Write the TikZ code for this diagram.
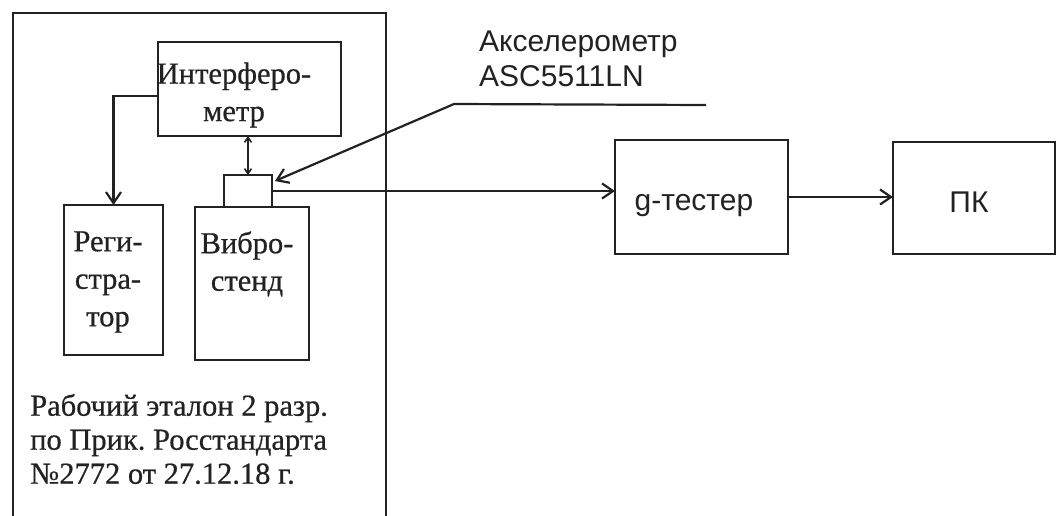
\documentclass[tikz,border=0pt]{standalone}
\usepackage{fontspec}
\setmainfont[FakeBold=0.6]{Liberation Serif}
\newfontfamily\arialf{Liberation Sans}
\usetikzlibrary{arrows.meta}
\definecolor{ink}{HTML}{222222}
\frenchspacing
\begin{document}
\begin{tikzpicture}[x=1pt,y=-1pt,
  box/.style={draw=ink, line width=2.2pt, inner sep=0pt, outer sep=0pt},
  lbl/.style={inner sep=0pt, text=ink, font=\fontsize{30.5}{37.5}\selectfont, align=center},
  sans/.style={inner sep=0pt, text=ink, font=\arialf\fontsize{30}{35}\selectfont},
  conn/.style={draw=ink, line width=2.2pt},
  arr/.style={conn, -{Straight Barb[length=11pt,width=15pt]}},
  dbl/.style={conn, line width=1.6pt, {Straight Barb[length=5pt,width=7pt]}-{Straight Barb[length=5pt,width=7pt]}}]
\useasboundingbox (0,0) rectangle (1058,515);
\clip (0,0) rectangle (1058,515);
% boxes
\node[box, anchor=north west, minimum width=373pt, minimum height=540pt] (outer) at (13,13) {};
\node[box, anchor=north west, minimum width=183pt, minimum height=94pt] (int) at (158,42) {};
\node[box, anchor=north west, minimum width=99pt, minimum height=150pt] (reg) at (64,205) {};
\node[box, anchor=north west, minimum width=114pt, minimum height=153pt] (vib) at (195,207) {};
\node[box, anchor=north west, minimum width=48pt, minimum height=32pt] (acc) at (224,175) {};
\node[box, anchor=north west, minimum width=173pt, minimum height=114pt] (gt) at (615,140) {};
\node[box, anchor=north west, minimum width=162pt, minimum height=112pt] (pc) at (893,142) {};
% texts
\node[lbl] (tint) at (234,95) {Интерферо-\\метр};
\node[lbl] (treg) at (108,282) {Реги-\\стра-\\тор};
\node[lbl] (tvib) at (247,264) {Вибро-\\стенд};
\node[lbl, anchor=west, align=left, font=\fontsize{30.5}{34}\selectfont] (tstd) at (30,439) {Рабочий эталон 2 разр.\\по Прик. Росстандарта\\№2772 от 27.12.18 г.};
\node[sans, anchor=west, align=left] (tacc) at (479,59) {Акселерометр\\ASC5511LN};
\node[sans] (tgt) at (694,206) {g-тестер};
\node[sans] (tpc) at (969,202) {ПК};
% leader
\coordinate (lk) at (454,104);
\coordinate (le) at (706,105);
% connectors
\draw[arr] ([yshift=-7pt]int.west) -| (reg.north);
\draw[dbl] (acc.north) -- (acc.north |- int.south);
\draw[arr] (le) -- (lk) -- ([xshift=3pt,yshift=-6pt]acc.north east);
\draw[arr] (acc.east) -- (acc.east -| gt.west);
\draw[arr] (gt.east) -- (gt.east -| pc.west);
\end{tikzpicture}
\end{document}
